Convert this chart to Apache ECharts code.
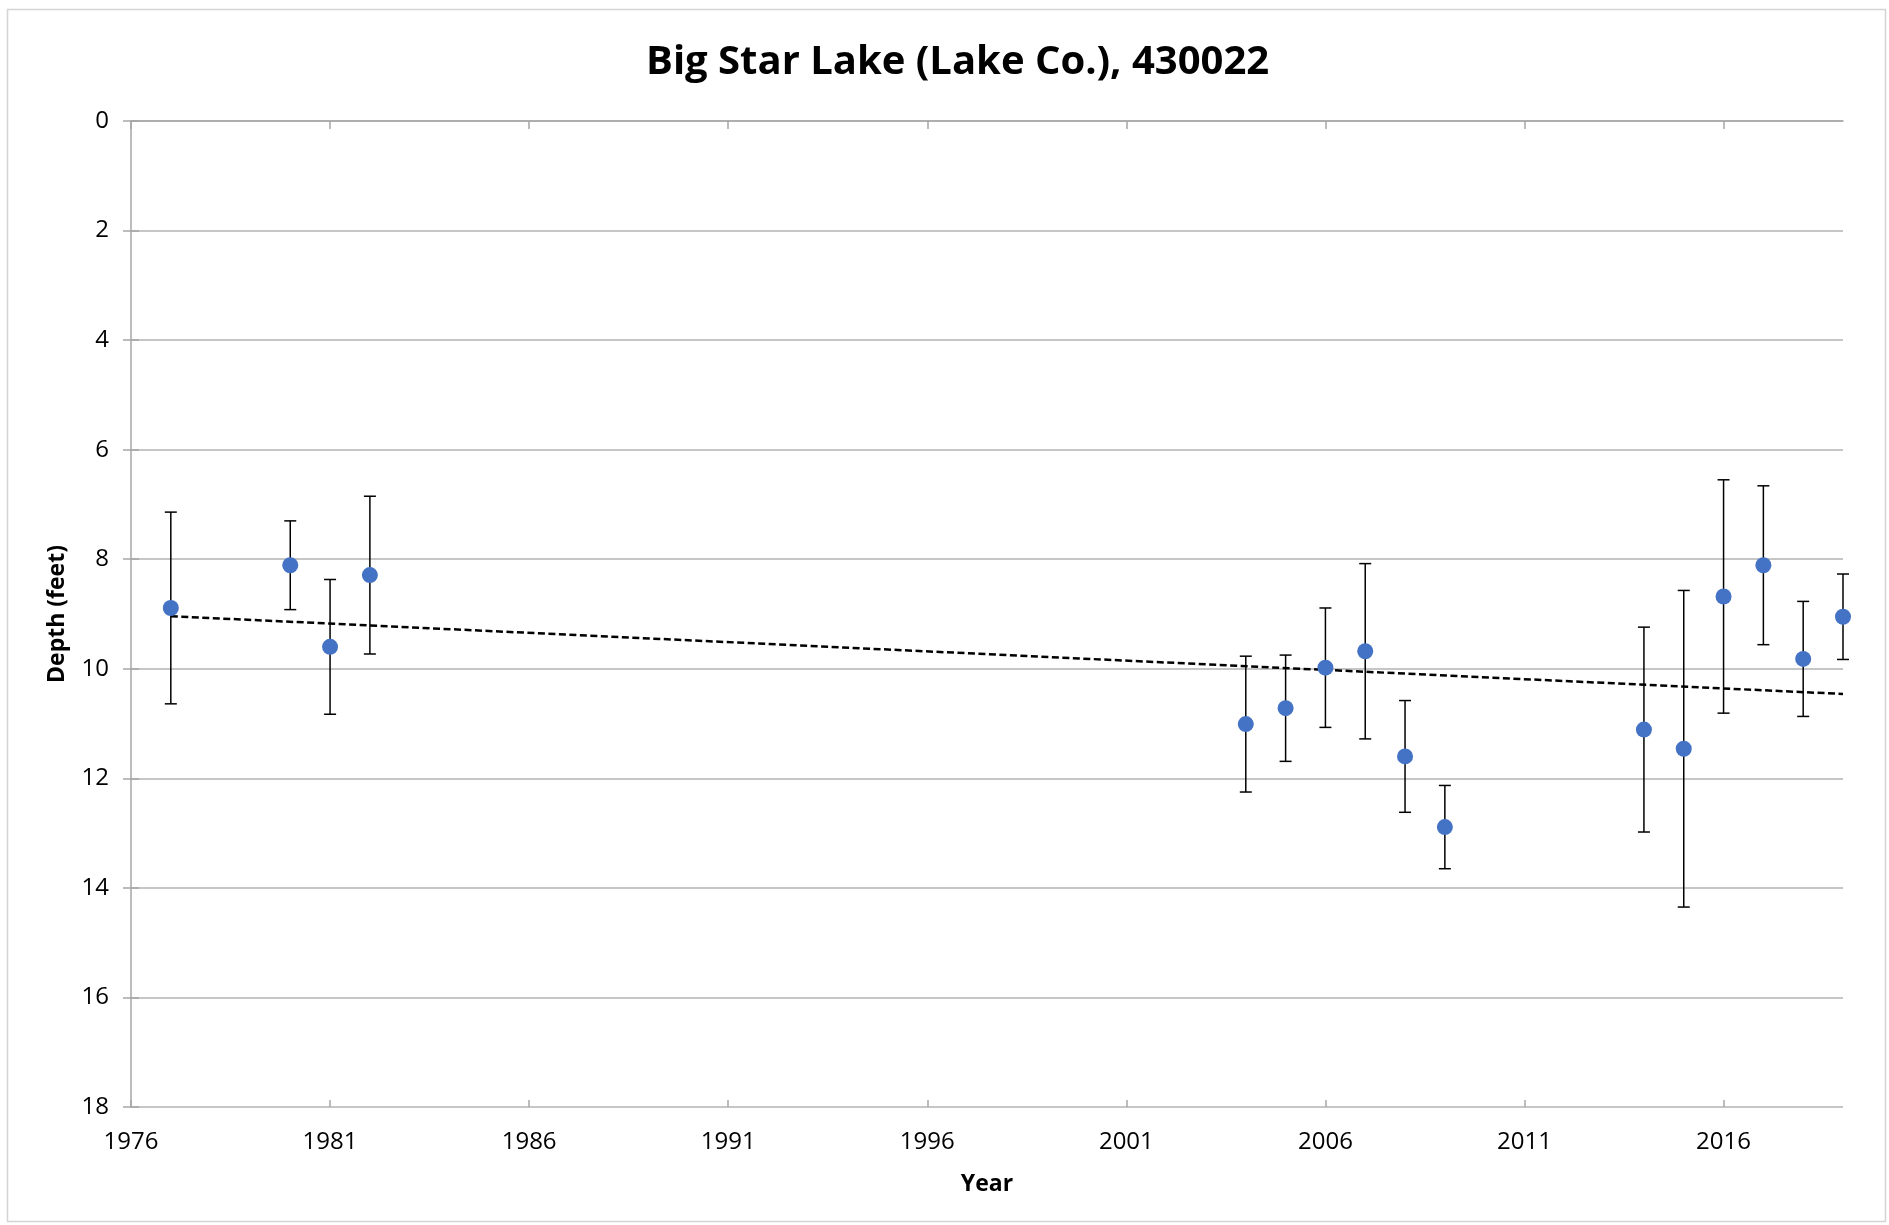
<!DOCTYPE html>
<html>
<head>
<meta charset="utf-8">
<script src="https://cdn.jsdelivr.net/npm/echarts@6/dist/echarts.min.js"></script>
<style>
html,body{margin:0;padding:0;background:#fff;}
#chart{width:1889px;height:1225px;}
</style>
</head>
<body>
<div id="chart"></div>
<script>
// ---- data ----
const years = [1977, 1980, 1981, 1982, 2004, 2005, 2006, 2007, 2008, 2009, 2014, 2015, 2016, 2017, 2018, 2019];
const depth = [8.89, 8.11, 9.60, 8.29, 11.01, 10.72, 9.98, 9.68, 11.60, 12.89, 11.11, 11.46, 8.68, 8.11, 9.82, 9.05];
const errors = [1.75, 0.81, 1.23, 1.44, 1.24, 0.97, 1.09, 1.60, 1.02, 0.76, 1.87, 2.89, 2.13, 1.45, 1.05, 0.78];
const trendYears = [1977, 2019];
const trendDepth = [9.04, 10.46];
const xTickLabels = [1976, 1981, 1986, 1991, 1996, 2001, 2006, 2011, 2016];
const yTickLabels = [0, 2, 4, 6, 8, 10, 12, 14, 16, 18];
const titleText = 'Big Star Lake (Lake Co.), 430022';
const xName = 'Year';
const yName = 'Depth (feet)';

const pointData = years.map((y, i) => [y, depth[i]]);
const errData = years.map((y, i) => [y, depth[i] - errors[i], depth[i] + errors[i]]);
const trendData = trendYears.map((y, i) => [y, trendDepth[i]]);

const FONT = '"Open Sans", "Noto Sans", sans-serif';
const W = 1889, H = 1225;
const G = { left: 131, right: 46, top: 121, bottom: 118 };
const plotW = W - G.left - G.right;
const plotH = H - G.top - G.bottom;
const chart = echarts.init(document.getElementById('chart'));

const AX = '#a6a6a6';
const xBase = { type: 'value', min: 1976, max: 2019, gridIndex: 0, splitLine: { show: false } };
const yBase = { type: 'value', min: 0, max: 18, interval: 2, inverse: true, gridIndex: 0 };

chart.setOption({
  animation: false,
  backgroundColor: '#ffffff',
  graphic: [{
    type: 'rect', shape: { x: 7.5, y: 9.5, width: 1878, height: 1212 },
    style: { fill: 'none', stroke: '#d4d4d4', lineWidth: 1.5 }, z: -1
  }],
  title: {
    text: titleText, left: 641, top: 38,
    textStyle: { fontFamily: FONT, fontWeight: 'bold', fontSize: 40, color: '#000' }
  },
  grid: G,
  xAxis: [
    Object.assign({}, xBase, {
      position: 'bottom',
      name: xName, nameLocation: 'middle', nameGap: 66,
      nameTextStyle: { fontFamily: FONT, fontWeight: 'bold', fontSize: 23, color: '#000' },
      axisLine: { show: true, lineStyle: { color: AX, width: 1.5 } },
      axisTick: { show: true, customValues: xTickLabels, length: 8, lineStyle: { color: AX, width: 1.5 } },
      axisLabel: {
        show: true, customValues: xTickLabels, margin: 23, fontFamily: FONT, fontSize: 24, color: '#000',
        formatter: v => String(v)
      }
    }),
    // second axis only supplies the upward half of the cross tick marks
    Object.assign({}, xBase, {
      position: 'top', offset: -plotH,
      axisLine: { show: false },
      axisTick: { show: true, inside: false, customValues: xTickLabels, length: 7, lineStyle: { color: AX, width: 1.5 } },
      axisLabel: { show: false }
    })
  ],
  yAxis: [
    Object.assign({}, yBase, {
      position: 'left',
      name: yName, nameLocation: 'middle', nameGap: 62, nameRotate: 90,
      nameTextStyle: { fontFamily: FONT, fontWeight: 'bold', fontSize: 23, color: '#000' },
      axisLine: { show: true, lineStyle: { color: AX, width: 1.5 } },
      axisTick: { show: true, length: 8, lineStyle: { color: AX, width: 1.5 } },
      axisLabel: {
        show: true, margin: 22, fontFamily: FONT, fontSize: 24, color: '#000',
        formatter: v => (yTickLabels.indexOf(v) >= 0 ? String(v) : '')
      },
      splitLine: { show: true, lineStyle: { color: '#c6c6c6', width: 2 } }
    }),
    Object.assign({}, yBase, {
      position: 'right', offset: -plotW,
      axisLine: { show: false },
      axisTick: { show: true, inside: false, length: 8, lineStyle: { color: AX, width: 1.5 } },
      axisLabel: { show: false },
      splitLine: { show: false }
    })
  ],
  series: [
    {
      type: 'line', name: 'trend', data: trendData, xAxisIndex: 0, yAxisIndex: 0,
      showSymbol: false, symbol: 'none',
      lineStyle: { color: '#000', width: 2.5, type: [7, 3.5] }, z: 2, silent: true
    },
    {
      type: 'custom', name: 'error', data: errData, xAxisIndex: 0, yAxisIndex: 0, z: 3,
      renderItem: function (params, api) {
        const x = api.value(0);
        const top = api.coord([x, api.value(1)]);
        const bot = api.coord([x, api.value(2)]);
        const hw = 6;
        const st = { stroke: '#000', lineWidth: 1.5 };
        return {
          type: 'group',
          children: [
            { type: 'line', shape: { x1: top[0], y1: top[1], x2: bot[0], y2: bot[1] }, style: st },
            { type: 'line', shape: { x1: top[0] - hw, y1: top[1], x2: top[0] + hw, y2: top[1] }, style: st },
            { type: 'line', shape: { x1: bot[0] - hw, y1: bot[1], x2: bot[0] + hw, y2: bot[1] }, style: st }
          ]
        };
      }
    },
    {
      type: 'scatter', name: 'depth', data: pointData, xAxisIndex: 0, yAxisIndex: 0, z: 4,
      symbol: 'circle', symbolSize: 16,
      itemStyle: { color: '#4472C4', opacity: 1 }
    }
  ]
});
</script>
</body>
</html>
